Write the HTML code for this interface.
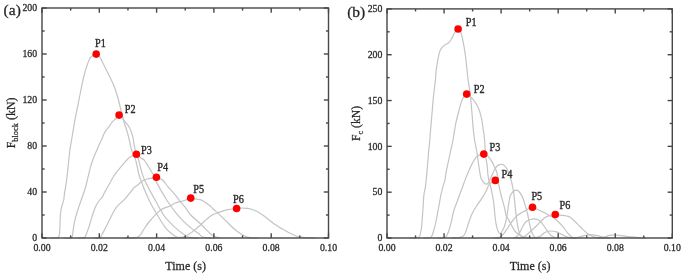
<!DOCTYPE html><html><head><meta charset="utf-8"><style>html,body{margin:0;padding:0;background:#fff;width:685px;height:277px;overflow:hidden}svg{display:block}text{font-family:"Liberation Serif", serif;stroke:#333;stroke-width:0.28px}</style></head><body>
<svg width="685" height="277" viewBox="0 0 685 277">
<defs><filter id="soft" x="0" y="0" width="685" height="277" filterUnits="userSpaceOnUse"><feGaussianBlur stdDeviation="0.50"/></filter></defs>
<rect width="685" height="277" fill="#fff"/>
<g filter="url(#soft)">
<g fill="none" stroke="#c4c4c4" stroke-width="1.20" stroke-linejoin="round" stroke-linecap="round">
<path d="M50.00 238.00 C51.25 237.97 56.10 237.87 57.50 237.80 C58.90 237.73 58.08 238.12 58.40 237.60 C58.72 237.08 59.17 236.15 59.40 234.70 C59.63 233.25 59.68 231.07 59.80 228.90 C59.92 226.73 60.00 224.10 60.10 221.70 C60.20 219.30 60.15 216.92 60.40 214.50 C60.65 212.08 61.05 209.62 61.60 207.20 C62.15 204.78 63.22 202.30 63.70 200.00 C64.18 197.70 64.07 196.32 64.50 193.40 C64.93 190.48 65.78 186.12 66.30 182.50 C66.82 178.88 67.20 175.32 67.60 171.70 C68.00 168.08 68.32 164.42 68.70 160.80 C69.08 157.18 69.50 152.97 69.90 150.00 C70.30 147.03 70.60 146.00 71.10 143.00 C71.60 140.00 72.30 135.63 72.90 132.00 C73.50 128.37 74.10 124.53 74.70 121.20 C75.30 117.87 75.90 115.02 76.50 112.00 C77.10 108.98 77.82 105.52 78.30 103.10 C78.78 100.68 79.02 99.43 79.40 97.50 C79.78 95.57 80.18 93.58 80.60 91.50 C81.02 89.42 81.45 87.17 81.90 85.00 C82.35 82.83 82.80 80.58 83.30 78.50 C83.80 76.42 84.35 74.43 84.90 72.50 C85.45 70.57 86.00 68.73 86.60 66.90 C87.20 65.07 87.82 63.10 88.50 61.50 C89.18 59.90 89.42 58.53 90.70 57.30 C91.98 56.07 94.65 54.07 96.20 54.10 C97.75 54.13 98.95 56.13 100.00 57.50 C101.05 58.87 101.67 60.67 102.50 62.30 C103.33 63.93 104.13 65.57 105.00 67.30 C105.87 69.03 106.78 70.87 107.70 72.70 C108.62 74.53 109.57 76.37 110.50 78.30 C111.43 80.23 112.42 82.18 113.30 84.30 C114.18 86.42 115.05 88.80 115.80 91.00 C116.55 93.20 117.18 95.33 117.80 97.50 C118.42 99.67 118.97 101.85 119.50 104.00 C120.03 106.15 120.48 108.32 121.00 110.40 C121.52 112.48 122.02 114.32 122.60 116.50 C123.18 118.68 123.82 121.20 124.50 123.50 C125.18 125.80 126.10 128.38 126.70 130.30 C127.30 132.22 127.28 131.72 128.10 135.00 C128.92 138.28 130.43 146.15 131.60 150.00 C132.77 153.85 134.12 155.10 135.10 158.10 C136.08 161.10 136.68 164.68 137.50 168.00 C138.32 171.32 138.08 172.67 140.00 178.00 C141.92 183.33 145.98 193.63 149.00 200.00 C152.02 206.37 155.37 211.60 158.10 216.20 C160.83 220.80 163.28 224.80 165.40 227.60 C167.52 230.40 169.00 231.48 170.80 233.00 C172.60 234.52 174.68 235.92 176.20 236.70 C177.72 237.48 178.27 237.48 179.90 237.70 C181.53 237.92 184.98 237.95 186.00 238.00"/>
<path d="M64.00 238.00 C65.17 237.98 69.60 238.22 71.00 237.90 C72.40 237.58 72.05 237.37 72.40 236.10 C72.75 234.83 72.78 232.47 73.10 230.30 C73.42 228.13 73.82 225.50 74.30 223.10 C74.78 220.70 75.35 218.30 76.00 215.90 C76.65 213.50 77.33 211.35 78.20 208.70 C79.07 206.05 80.02 203.45 81.20 200.00 C82.38 196.55 84.17 191.82 85.30 188.00 C86.43 184.18 87.10 180.72 88.00 177.10 C88.90 173.48 89.78 169.48 90.70 166.30 C91.62 163.12 92.87 159.80 93.50 158.00 C94.13 156.20 93.97 156.75 94.50 155.50 C95.03 154.25 95.98 152.18 96.70 150.50 C97.42 148.82 97.97 147.22 98.80 145.40 C99.63 143.58 100.85 141.52 101.70 139.60 C102.55 137.68 103.18 135.45 103.90 133.90 C104.62 132.35 105.05 131.63 106.00 130.30 C106.95 128.97 108.63 127.23 109.60 125.90 C110.57 124.57 110.72 123.57 111.80 122.30 C112.88 121.03 114.88 119.50 116.10 118.30 C117.32 117.10 118.18 115.28 119.10 115.10 C120.02 114.92 120.75 116.25 121.60 117.20 C122.45 118.15 123.02 119.28 124.20 120.80 C125.38 122.32 127.65 124.77 128.70 126.30 C129.75 127.83 129.83 128.32 130.50 130.00 C131.17 131.68 131.92 133.07 132.70 136.40 C133.48 139.73 134.30 146.38 135.20 150.00 C136.10 153.62 136.68 153.43 138.10 158.10 C139.52 162.77 140.87 171.02 143.70 178.00 C146.53 184.98 151.78 193.83 155.10 200.00 C158.42 206.17 161.28 211.45 163.60 215.00 C165.92 218.55 167.05 219.20 169.00 221.30 C170.95 223.40 173.03 225.57 175.30 227.60 C177.57 229.63 180.48 231.98 182.60 233.50 C184.72 235.02 186.50 236.00 188.00 236.70 C189.50 237.40 189.93 237.48 191.60 237.70 C193.27 237.92 196.93 237.95 198.00 238.00"/>
<path d="M78.00 238.00 C78.67 238.00 81.03 238.03 82.00 238.00 C82.97 237.97 83.27 238.03 83.80 237.80 C84.33 237.57 84.72 237.37 85.20 236.60 C85.68 235.83 86.10 234.73 86.70 233.20 C87.30 231.67 88.08 229.57 88.80 227.40 C89.52 225.23 90.27 222.60 91.00 220.20 C91.73 217.80 92.37 215.40 93.20 213.00 C94.03 210.60 94.93 207.97 96.00 205.80 C97.07 203.63 98.60 201.37 99.60 200.00 C100.60 198.63 101.28 198.65 102.00 197.60 C102.72 196.55 103.17 195.10 103.90 193.70 C104.63 192.30 105.57 190.68 106.40 189.20 C107.23 187.72 108.07 186.28 108.90 184.80 C109.73 183.32 110.57 181.77 111.40 180.30 C112.23 178.83 113.07 177.33 113.90 176.00 C114.73 174.67 115.57 173.42 116.40 172.30 C117.23 171.18 118.00 170.38 118.90 169.30 C119.80 168.22 120.85 166.95 121.80 165.80 C122.75 164.65 123.65 163.50 124.60 162.40 C125.55 161.30 126.63 160.05 127.50 159.20 C128.37 158.35 128.92 157.92 129.80 157.30 C130.68 156.68 131.70 156.02 132.80 155.50 C133.90 154.98 135.27 153.93 136.40 154.20 C137.53 154.47 138.30 156.12 139.60 157.10 C140.90 158.08 142.77 158.58 144.20 160.10 C145.63 161.62 146.93 164.18 148.20 166.20 C149.47 168.22 150.87 170.68 151.80 172.20 C152.73 173.72 152.98 173.57 153.80 175.30 C154.62 177.03 154.55 178.48 156.70 182.60 C158.85 186.72 163.60 195.08 166.70 200.00 C169.80 204.92 172.50 208.55 175.30 212.10 C178.10 215.65 180.93 218.72 183.50 221.30 C186.07 223.88 188.30 225.65 190.70 227.60 C193.10 229.55 195.95 231.48 197.90 233.00 C199.85 234.52 201.05 235.92 202.40 236.70 C203.75 237.48 204.40 237.48 206.00 237.70 C207.60 237.92 211.00 237.95 212.00 238.00"/>
<path d="M95.00 238.00 C95.75 237.95 98.50 237.97 99.50 237.70 C100.50 237.43 100.37 237.33 101.00 236.40 C101.63 235.47 102.40 233.83 103.30 232.10 C104.20 230.37 105.35 228.05 106.40 226.00 C107.45 223.95 108.55 221.88 109.60 219.80 C110.65 217.72 111.57 215.58 112.70 213.50 C113.83 211.42 114.97 209.15 116.40 207.30 C117.83 205.45 119.95 203.72 121.30 202.40 C122.65 201.08 123.60 200.32 124.50 199.40 C125.40 198.48 125.67 198.15 126.70 196.90 C127.73 195.65 129.53 193.38 130.70 191.90 C131.87 190.42 132.53 189.15 133.70 188.00 C134.87 186.85 136.30 186.15 137.70 185.00 C139.10 183.85 140.53 182.10 142.10 181.10 C143.67 180.10 145.42 179.48 147.10 179.00 C148.78 178.52 150.65 178.50 152.20 178.20 C153.75 177.90 155.05 177.07 156.40 177.20 C157.75 177.33 159.27 178.53 160.30 179.00 C161.33 179.47 161.27 178.65 162.60 180.00 C163.93 181.35 166.23 184.67 168.30 187.10 C170.37 189.53 173.05 192.25 175.00 194.60 C176.95 196.95 178.32 199.10 180.00 201.20 C181.68 203.30 183.32 204.90 185.10 207.20 C186.88 209.50 188.42 212.50 190.70 215.00 C192.98 217.50 196.43 219.98 198.80 222.20 C201.17 224.42 203.07 226.47 204.90 228.30 C206.73 230.13 208.18 231.83 209.80 233.20 C211.42 234.57 212.90 235.70 214.60 236.50 C216.30 237.30 219.10 237.75 220.00 238.00"/>
<path d="M125.00 238.00 C126.45 237.93 131.68 237.72 133.70 237.60 C135.72 237.48 135.95 237.80 137.10 237.30 C138.25 236.80 139.28 236.23 140.60 234.60 C141.92 232.97 143.60 229.60 145.00 227.50 C146.40 225.40 147.32 224.05 149.00 222.00 C150.68 219.95 153.27 217.12 155.10 215.20 C156.93 213.28 158.32 211.77 160.00 210.50 C161.68 209.23 163.52 208.35 165.20 207.60 C166.88 206.85 168.42 206.77 170.10 206.00 C171.78 205.23 173.65 203.72 175.30 203.00 C176.95 202.28 178.37 202.17 180.00 201.70 C181.63 201.23 183.32 200.80 185.10 200.20 C186.88 199.60 188.85 198.28 190.70 198.10 C192.55 197.92 194.60 198.85 196.20 199.10 C197.80 199.35 198.95 199.17 200.30 199.60 C201.65 200.03 202.80 200.77 204.30 201.70 C205.80 202.63 207.85 204.02 209.30 205.20 C210.75 206.38 211.03 206.98 213.00 208.80 C214.97 210.62 218.38 213.52 221.10 216.10 C223.82 218.68 226.58 221.72 229.30 224.30 C232.02 226.88 234.70 229.57 237.40 231.60 C240.10 233.63 243.07 235.43 245.50 236.50 C247.93 237.57 249.92 237.75 252.00 238.00 C254.08 238.25 257.00 238.00 258.00 238.00"/>
<path d="M168.00 238.00 C169.67 237.93 175.12 237.90 178.00 237.60 C180.88 237.30 182.88 237.18 185.30 236.20 C187.72 235.22 190.10 233.43 192.50 231.70 C194.90 229.97 197.37 227.85 199.70 225.80 C202.03 223.75 204.28 221.28 206.50 219.40 C208.72 217.52 210.83 215.72 213.00 214.50 C215.17 213.28 217.07 212.92 219.50 212.10 C221.93 211.28 224.75 210.20 227.60 209.60 C230.45 209.00 234.42 208.77 236.60 208.50 C238.78 208.23 238.93 208.03 240.70 208.00 C242.47 207.97 245.65 208.17 247.20 208.30 C248.75 208.43 248.45 208.30 250.00 208.80 C251.55 209.30 254.33 210.22 256.50 211.30 C258.67 212.38 260.83 213.82 263.00 215.30 C265.17 216.78 267.33 218.57 269.50 220.20 C271.67 221.83 273.83 223.62 276.00 225.10 C278.17 226.58 280.33 227.83 282.50 229.10 C284.67 230.37 286.83 231.60 289.00 232.70 C291.17 233.80 293.60 234.98 295.50 235.70 C297.40 236.42 298.77 236.68 300.40 237.00 C302.03 237.32 302.87 237.43 305.30 237.60 C307.73 237.77 313.38 237.93 315.00 238.00"/>
<path d="M410.00 238.00 C411.00 237.97 414.63 237.88 416.00 237.80 C417.37 237.72 417.55 237.87 418.20 237.50 C418.85 237.13 419.35 237.27 419.90 235.60 C420.45 233.93 421.02 231.57 421.50 227.50 C421.98 223.43 422.40 216.62 422.80 211.20 C423.20 205.78 423.45 199.18 423.90 195.00 C424.35 190.82 424.93 190.60 425.50 186.10 C426.07 181.60 426.78 173.68 427.30 168.00 C427.82 162.32 428.18 156.67 428.60 152.00 C429.02 147.33 429.50 143.32 429.80 140.00 C430.10 136.68 430.05 136.32 430.40 132.10 C430.75 127.88 431.40 120.48 431.90 114.70 C432.40 108.92 432.82 103.18 433.40 97.40 C433.98 91.62 435.00 83.78 435.40 80.00 C435.80 76.22 435.63 76.55 435.80 74.70 C435.97 72.85 436.15 70.83 436.40 68.90 C436.65 66.97 436.98 65.03 437.30 63.10 C437.62 61.17 437.90 59.22 438.30 57.30 C438.70 55.38 439.10 53.22 439.70 51.60 C440.30 49.98 441.05 48.70 441.90 47.60 C442.75 46.50 443.78 45.73 444.80 45.00 C445.82 44.27 446.93 44.12 448.00 43.20 C449.07 42.28 450.12 41.20 451.20 39.50 C452.28 37.80 453.33 34.73 454.50 33.00 C455.67 31.27 457.12 29.10 458.20 29.10 C459.28 29.10 460.18 30.90 461.00 33.00 C461.82 35.10 462.38 38.08 463.10 41.70 C463.82 45.32 464.68 50.37 465.30 54.70 C465.92 59.03 466.33 63.48 466.80 67.70 C467.27 71.92 467.65 76.50 468.10 80.00 C468.55 83.50 469.02 85.08 469.50 88.70 C469.98 92.32 470.57 97.37 471.00 101.70 C471.43 106.03 471.75 110.37 472.10 114.70 C472.45 119.03 472.68 123.48 473.10 127.70 C473.52 131.92 473.98 136.03 474.60 140.00 C475.22 143.97 476.20 147.90 476.80 151.50 C477.40 155.10 477.73 158.35 478.20 161.60 C478.67 164.85 479.13 168.27 479.60 171.00 C480.07 173.73 480.32 176.08 481.00 178.00 C481.68 179.92 482.77 181.47 483.70 182.50 C484.63 183.53 485.78 184.20 486.60 184.20 C487.42 184.20 487.98 183.37 488.60 182.50 C489.22 181.63 489.68 180.33 490.30 179.00 C490.92 177.67 491.58 176.08 492.30 174.50 C493.02 172.92 493.75 170.95 494.60 169.50 C495.45 168.05 496.40 166.67 497.40 165.80 C498.40 164.93 499.57 164.43 500.60 164.30 C501.63 164.17 502.70 164.47 503.60 165.00 C504.50 165.53 505.28 166.50 506.00 167.50 C506.72 168.50 507.25 169.50 507.90 171.00 C508.55 172.50 509.28 174.67 509.90 176.50 C510.52 178.33 511.10 180.08 511.60 182.00 C512.10 183.92 512.53 186.00 512.90 188.00 C513.27 190.00 513.55 192.20 513.80 194.00 C514.05 195.80 514.13 196.32 514.40 198.80 C514.67 201.28 515.00 205.37 515.40 208.90 C515.80 212.43 516.32 216.65 516.80 220.00 C517.28 223.35 517.68 226.42 518.30 229.00 C518.92 231.58 519.55 234.07 520.50 235.50 C521.45 236.93 522.42 237.18 524.00 237.60 C525.58 238.02 529.00 237.93 530.00 238.00"/>
<path d="M424.00 238.00 C424.67 237.97 426.80 237.98 428.00 237.80 C429.20 237.62 430.25 238.08 431.20 236.90 C432.15 235.72 432.88 233.35 433.70 230.70 C434.52 228.05 435.30 224.78 436.10 221.00 C436.90 217.22 437.68 212.42 438.50 208.00 C439.32 203.58 440.25 198.08 441.00 194.50 C441.75 190.92 442.37 188.80 443.00 186.50 C443.63 184.20 444.22 183.40 444.80 180.70 C445.38 178.00 445.85 173.72 446.50 170.30 C447.15 166.88 447.98 163.57 448.70 160.20 C449.42 156.83 450.08 153.47 450.80 150.10 C451.52 146.73 452.17 144.45 453.00 140.00 C453.83 135.55 454.80 128.33 455.80 123.40 C456.80 118.47 457.92 114.38 459.00 110.40 C460.08 106.42 461.03 102.18 462.30 99.50 C463.57 96.82 464.97 94.48 466.60 94.30 C468.23 94.12 470.28 96.45 472.10 98.40 C473.92 100.35 475.98 102.92 477.50 106.00 C479.02 109.08 480.23 112.92 481.20 116.90 C482.17 120.88 482.73 126.05 483.30 129.90 C483.87 133.75 484.28 136.65 484.60 140.00 C484.92 143.35 485.00 147.12 485.20 150.00 C485.40 152.88 485.47 154.63 485.80 157.30 C486.13 159.97 486.85 163.12 487.20 166.00 C487.55 168.88 487.63 172.27 487.90 174.60 C488.17 176.93 488.37 178.10 488.80 180.00 C489.23 181.90 489.97 183.83 490.50 186.00 C491.03 188.17 491.53 190.67 492.00 193.00 C492.47 195.33 492.93 197.67 493.30 200.00 C493.67 202.33 493.92 204.33 494.20 207.00 C494.48 209.67 494.65 212.97 495.00 216.00 C495.35 219.03 495.77 222.62 496.30 225.20 C496.83 227.78 497.58 230.12 498.20 231.50 C498.82 232.88 499.25 233.70 500.00 233.50 C500.75 233.30 501.83 231.88 502.70 230.30 C503.57 228.72 504.47 226.53 505.20 224.00 C505.93 221.47 506.55 218.27 507.10 215.10 C507.65 211.93 507.98 208.18 508.50 205.00 C509.02 201.82 509.40 198.27 510.20 196.00 C511.00 193.73 512.07 192.33 513.30 191.40 C514.53 190.47 516.17 189.65 517.60 190.40 C519.03 191.15 520.83 194.03 521.90 195.90 C522.97 197.77 523.28 199.43 524.00 201.60 C524.72 203.77 525.57 206.67 526.20 208.90 C526.83 211.13 527.33 212.98 527.80 215.00 C528.27 217.02 528.55 218.83 529.00 221.00 C529.45 223.17 529.92 225.83 530.50 228.00 C531.08 230.17 531.75 232.45 532.50 234.00 C533.25 235.55 533.75 236.63 535.00 237.30 C536.25 237.97 539.17 237.88 540.00 238.00"/>
<path d="M438.00 238.00 C438.67 237.97 440.70 237.98 442.00 237.80 C443.30 237.62 444.75 237.82 445.80 236.90 C446.85 235.98 447.48 234.42 448.30 232.30 C449.12 230.18 450.03 226.75 450.70 224.20 C451.37 221.65 451.75 219.37 452.30 217.00 C452.85 214.63 453.25 212.42 454.00 210.00 C454.75 207.58 455.88 205.00 456.80 202.50 C457.72 200.00 458.67 197.25 459.50 195.00 C460.33 192.75 461.08 190.92 461.80 189.00 C462.52 187.08 463.07 185.48 463.80 183.50 C464.53 181.52 465.23 179.53 466.20 177.10 C467.17 174.67 468.55 171.23 469.60 168.90 C470.65 166.57 471.42 165.03 472.50 163.10 C473.58 161.17 474.78 158.75 476.10 157.30 C477.42 155.85 479.12 154.95 480.40 154.40 C481.68 153.85 482.60 153.75 483.80 154.00 C485.00 154.25 486.25 154.63 487.60 155.90 C488.95 157.17 490.70 159.68 491.90 161.60 C493.10 163.52 494.02 165.72 494.80 167.40 C495.58 169.08 496.13 170.25 496.60 171.70 C497.07 173.15 497.27 174.05 497.60 176.10 C497.93 178.15 498.17 181.43 498.60 184.00 C499.03 186.57 499.58 188.92 500.20 191.50 C500.82 194.08 501.58 196.80 502.30 199.50 C503.02 202.20 503.85 204.95 504.50 207.70 C505.15 210.45 505.67 214.28 506.20 216.00 C506.73 217.72 506.82 216.47 507.70 218.00 C508.58 219.53 510.23 222.95 511.50 225.20 C512.77 227.45 514.03 229.92 515.30 231.50 C516.57 233.08 517.82 233.87 519.10 234.70 C520.38 235.53 521.52 236.02 523.00 236.50 C524.48 236.98 526.17 237.35 528.00 237.60 C529.83 237.85 533.00 237.93 534.00 238.00"/>
<path d="M452.00 238.00 C452.67 237.97 454.83 237.88 456.00 237.80 C457.17 237.72 457.92 237.72 459.00 237.50 C460.08 237.28 461.53 237.08 462.50 236.50 C463.47 235.92 464.18 235.00 464.80 234.00 C465.42 233.00 465.70 231.92 466.20 230.50 C466.70 229.08 467.18 227.42 467.80 225.50 C468.42 223.58 469.08 221.17 469.90 219.00 C470.72 216.83 471.60 214.67 472.70 212.50 C473.80 210.33 475.08 208.20 476.50 206.00 C477.92 203.80 479.65 201.68 481.20 199.30 C482.75 196.92 484.52 194.12 485.80 191.70 C487.08 189.28 487.93 186.33 488.90 184.80 C489.87 183.27 490.52 183.20 491.60 182.50 C492.68 181.80 494.23 180.52 495.40 180.60 C496.57 180.68 498.07 182.60 498.60 183.00"/>
<path d="M494.00 238.00 C494.67 237.97 496.92 238.00 498.00 237.80 C499.08 237.60 499.58 237.43 500.50 236.80 C501.42 236.17 502.42 235.30 503.50 234.00 C504.58 232.70 505.88 230.67 507.00 229.00 C508.12 227.33 509.17 225.50 510.20 224.00 C511.23 222.50 512.07 221.37 513.20 220.00 C514.33 218.63 515.53 217.05 517.00 215.80 C518.47 214.55 520.50 213.43 522.00 212.50 C523.50 211.57 524.75 210.95 526.00 210.20 C527.25 209.45 528.42 208.53 529.50 208.00 C530.58 207.47 531.40 206.88 532.50 207.00 C533.60 207.12 534.78 208.07 536.10 208.70 C537.42 209.33 538.92 210.08 540.40 210.80 C541.88 211.52 543.48 212.20 545.00 213.00 C546.52 213.80 548.00 214.72 549.50 215.60 C551.00 216.48 552.58 217.32 554.00 218.30 C555.42 219.28 556.52 220.10 558.00 221.50 C559.48 222.90 561.27 224.75 562.90 226.70 C564.53 228.65 566.32 231.48 567.80 233.20 C569.28 234.92 570.43 236.20 571.80 237.00 C573.17 237.80 575.30 237.83 576.00 238.00"/>
<path d="M516.00 238.00 C516.67 237.97 518.78 237.97 520.00 237.80 C521.22 237.63 522.22 237.47 523.30 237.00 C524.38 236.53 525.38 235.83 526.50 235.00 C527.62 234.17 528.83 233.08 530.00 232.00 C531.17 230.92 532.23 229.70 533.50 228.50 C534.77 227.30 536.20 226.18 537.60 224.80 C539.00 223.42 540.47 221.53 541.90 220.20 C543.33 218.87 544.63 217.63 546.20 216.80 C547.77 215.97 549.80 215.58 551.30 215.20 C552.80 214.82 553.88 214.50 555.20 214.50 C556.52 214.50 557.90 215.05 559.20 215.20 C560.50 215.35 561.78 215.27 563.00 215.40 C564.22 215.53 565.32 215.68 566.50 216.00 C567.68 216.32 568.77 216.47 570.10 217.30 C571.43 218.13 573.05 219.67 574.50 221.00 C575.95 222.33 577.37 223.87 578.80 225.30 C580.23 226.73 581.65 228.23 583.10 229.60 C584.55 230.97 586.17 232.47 587.50 233.50 C588.83 234.53 589.90 235.20 591.10 235.80 C592.30 236.40 593.38 236.75 594.70 237.10 C596.02 237.45 597.45 237.75 599.00 237.90 C600.55 238.05 603.17 237.98 604.00 238.00"/>
<path d="M514.00 238.00 C514.50 237.75 516.00 237.50 517.00 236.50 C518.00 235.50 519.00 233.75 520.00 232.00 C521.00 230.25 522.00 227.72 523.00 226.00 C524.00 224.28 524.78 222.78 526.00 221.70 C527.22 220.62 528.85 219.98 530.30 219.50 C531.75 219.02 533.25 218.68 534.70 218.80 C536.15 218.92 537.80 219.48 539.00 220.20 C540.20 220.92 540.90 221.88 541.90 223.10 C542.90 224.32 543.98 226.02 545.00 227.50 C546.02 228.98 547.00 230.67 548.00 232.00 C549.00 233.33 549.83 234.58 551.00 235.50 C552.17 236.42 553.50 237.08 555.00 237.50 C556.50 237.92 559.17 237.92 560.00 238.00"/>
<path d="M532.00 238.00 C532.67 237.93 534.60 237.92 536.00 237.60 C537.40 237.28 538.93 236.95 540.40 236.10 C541.87 235.25 543.12 233.35 544.80 232.50 C546.48 231.65 548.58 231.12 550.50 231.00 C552.42 230.88 554.60 231.32 556.30 231.80 C558.00 232.28 559.25 233.18 560.70 233.90 C562.15 234.62 563.45 235.48 565.00 236.10 C566.55 236.72 568.33 237.28 570.00 237.60 C571.67 237.92 574.17 237.93 575.00 238.00"/>
<path d="M572.00 238.00 C572.67 237.93 574.63 237.80 576.00 237.60 C577.37 237.40 578.65 237.17 580.20 236.80 C581.75 236.43 583.62 235.75 585.30 235.40 C586.98 235.05 588.50 234.70 590.30 234.70 C592.10 234.70 594.17 235.05 596.10 235.40 C598.03 235.75 600.25 236.42 601.90 236.80 C603.55 237.18 604.65 237.50 606.00 237.70 C607.35 237.90 609.33 237.95 610.00 238.00"/>
<path d="M598.00 238.00 C598.50 237.97 599.87 237.93 601.00 237.80 C602.13 237.67 603.45 237.60 604.80 237.20 C606.15 236.80 607.65 235.77 609.10 235.40 C610.55 235.03 611.82 235.00 613.50 235.00 C615.18 235.00 617.03 235.17 619.20 235.40 C621.37 235.63 623.85 236.10 626.50 236.40 C629.15 236.70 632.68 236.95 635.10 237.20 C637.52 237.45 639.18 237.77 641.00 237.90 C642.82 238.03 645.17 237.98 646.00 238.00"/>
</g>
<rect x="42.00" y="8.00" width="286.50" height="230.00" fill="none" stroke="#474747" stroke-width="1.40"/>
<line x1="42.00" y1="238.00" x2="42.00" y2="233.30" stroke="#474747" stroke-width="1.40"/>
<line x1="42.00" y1="8.00" x2="42.00" y2="12.70" stroke="#474747" stroke-width="1.40"/>
<line x1="70.65" y1="238.00" x2="70.65" y2="235.40" stroke="#474747" stroke-width="1.40"/>
<line x1="70.65" y1="8.00" x2="70.65" y2="10.60" stroke="#474747" stroke-width="1.40"/>
<line x1="99.30" y1="238.00" x2="99.30" y2="233.30" stroke="#474747" stroke-width="1.40"/>
<line x1="99.30" y1="8.00" x2="99.30" y2="12.70" stroke="#474747" stroke-width="1.40"/>
<line x1="127.95" y1="238.00" x2="127.95" y2="235.40" stroke="#474747" stroke-width="1.40"/>
<line x1="127.95" y1="8.00" x2="127.95" y2="10.60" stroke="#474747" stroke-width="1.40"/>
<line x1="156.60" y1="238.00" x2="156.60" y2="233.30" stroke="#474747" stroke-width="1.40"/>
<line x1="156.60" y1="8.00" x2="156.60" y2="12.70" stroke="#474747" stroke-width="1.40"/>
<line x1="185.25" y1="238.00" x2="185.25" y2="235.40" stroke="#474747" stroke-width="1.40"/>
<line x1="185.25" y1="8.00" x2="185.25" y2="10.60" stroke="#474747" stroke-width="1.40"/>
<line x1="213.90" y1="238.00" x2="213.90" y2="233.30" stroke="#474747" stroke-width="1.40"/>
<line x1="213.90" y1="8.00" x2="213.90" y2="12.70" stroke="#474747" stroke-width="1.40"/>
<line x1="242.55" y1="238.00" x2="242.55" y2="235.40" stroke="#474747" stroke-width="1.40"/>
<line x1="242.55" y1="8.00" x2="242.55" y2="10.60" stroke="#474747" stroke-width="1.40"/>
<line x1="271.20" y1="238.00" x2="271.20" y2="233.30" stroke="#474747" stroke-width="1.40"/>
<line x1="271.20" y1="8.00" x2="271.20" y2="12.70" stroke="#474747" stroke-width="1.40"/>
<line x1="299.85" y1="238.00" x2="299.85" y2="235.40" stroke="#474747" stroke-width="1.40"/>
<line x1="299.85" y1="8.00" x2="299.85" y2="10.60" stroke="#474747" stroke-width="1.40"/>
<line x1="328.50" y1="238.00" x2="328.50" y2="233.30" stroke="#474747" stroke-width="1.40"/>
<line x1="328.50" y1="8.00" x2="328.50" y2="12.70" stroke="#474747" stroke-width="1.40"/>
<line x1="42.00" y1="238.00" x2="46.70" y2="238.00" stroke="#474747" stroke-width="1.40"/>
<line x1="328.50" y1="238.00" x2="323.80" y2="238.00" stroke="#474747" stroke-width="1.40"/>
<line x1="42.00" y1="215.00" x2="44.60" y2="215.00" stroke="#474747" stroke-width="1.40"/>
<line x1="328.50" y1="215.00" x2="325.90" y2="215.00" stroke="#474747" stroke-width="1.40"/>
<line x1="42.00" y1="192.00" x2="46.70" y2="192.00" stroke="#474747" stroke-width="1.40"/>
<line x1="328.50" y1="192.00" x2="323.80" y2="192.00" stroke="#474747" stroke-width="1.40"/>
<line x1="42.00" y1="169.00" x2="44.60" y2="169.00" stroke="#474747" stroke-width="1.40"/>
<line x1="328.50" y1="169.00" x2="325.90" y2="169.00" stroke="#474747" stroke-width="1.40"/>
<line x1="42.00" y1="146.00" x2="46.70" y2="146.00" stroke="#474747" stroke-width="1.40"/>
<line x1="328.50" y1="146.00" x2="323.80" y2="146.00" stroke="#474747" stroke-width="1.40"/>
<line x1="42.00" y1="123.00" x2="44.60" y2="123.00" stroke="#474747" stroke-width="1.40"/>
<line x1="328.50" y1="123.00" x2="325.90" y2="123.00" stroke="#474747" stroke-width="1.40"/>
<line x1="42.00" y1="100.00" x2="46.70" y2="100.00" stroke="#474747" stroke-width="1.40"/>
<line x1="328.50" y1="100.00" x2="323.80" y2="100.00" stroke="#474747" stroke-width="1.40"/>
<line x1="42.00" y1="77.00" x2="44.60" y2="77.00" stroke="#474747" stroke-width="1.40"/>
<line x1="328.50" y1="77.00" x2="325.90" y2="77.00" stroke="#474747" stroke-width="1.40"/>
<line x1="42.00" y1="54.00" x2="46.70" y2="54.00" stroke="#474747" stroke-width="1.40"/>
<line x1="328.50" y1="54.00" x2="323.80" y2="54.00" stroke="#474747" stroke-width="1.40"/>
<line x1="42.00" y1="31.00" x2="44.60" y2="31.00" stroke="#474747" stroke-width="1.40"/>
<line x1="328.50" y1="31.00" x2="325.90" y2="31.00" stroke="#474747" stroke-width="1.40"/>
<line x1="42.00" y1="8.00" x2="46.70" y2="8.00" stroke="#474747" stroke-width="1.40"/>
<line x1="328.50" y1="8.00" x2="323.80" y2="8.00" stroke="#474747" stroke-width="1.40"/>
<rect x="387.00" y="8.90" width="285.30" height="229.10" fill="none" stroke="#474747" stroke-width="1.40"/>
<line x1="387.00" y1="238.00" x2="387.00" y2="233.30" stroke="#474747" stroke-width="1.40"/>
<line x1="387.00" y1="8.90" x2="387.00" y2="13.60" stroke="#474747" stroke-width="1.40"/>
<line x1="415.53" y1="238.00" x2="415.53" y2="235.40" stroke="#474747" stroke-width="1.40"/>
<line x1="415.53" y1="8.90" x2="415.53" y2="11.50" stroke="#474747" stroke-width="1.40"/>
<line x1="444.06" y1="238.00" x2="444.06" y2="233.30" stroke="#474747" stroke-width="1.40"/>
<line x1="444.06" y1="8.90" x2="444.06" y2="13.60" stroke="#474747" stroke-width="1.40"/>
<line x1="472.59" y1="238.00" x2="472.59" y2="235.40" stroke="#474747" stroke-width="1.40"/>
<line x1="472.59" y1="8.90" x2="472.59" y2="11.50" stroke="#474747" stroke-width="1.40"/>
<line x1="501.12" y1="238.00" x2="501.12" y2="233.30" stroke="#474747" stroke-width="1.40"/>
<line x1="501.12" y1="8.90" x2="501.12" y2="13.60" stroke="#474747" stroke-width="1.40"/>
<line x1="529.65" y1="238.00" x2="529.65" y2="235.40" stroke="#474747" stroke-width="1.40"/>
<line x1="529.65" y1="8.90" x2="529.65" y2="11.50" stroke="#474747" stroke-width="1.40"/>
<line x1="558.18" y1="238.00" x2="558.18" y2="233.30" stroke="#474747" stroke-width="1.40"/>
<line x1="558.18" y1="8.90" x2="558.18" y2="13.60" stroke="#474747" stroke-width="1.40"/>
<line x1="586.71" y1="238.00" x2="586.71" y2="235.40" stroke="#474747" stroke-width="1.40"/>
<line x1="586.71" y1="8.90" x2="586.71" y2="11.50" stroke="#474747" stroke-width="1.40"/>
<line x1="615.24" y1="238.00" x2="615.24" y2="233.30" stroke="#474747" stroke-width="1.40"/>
<line x1="615.24" y1="8.90" x2="615.24" y2="13.60" stroke="#474747" stroke-width="1.40"/>
<line x1="643.77" y1="238.00" x2="643.77" y2="235.40" stroke="#474747" stroke-width="1.40"/>
<line x1="643.77" y1="8.90" x2="643.77" y2="11.50" stroke="#474747" stroke-width="1.40"/>
<line x1="672.30" y1="238.00" x2="672.30" y2="233.30" stroke="#474747" stroke-width="1.40"/>
<line x1="672.30" y1="8.90" x2="672.30" y2="13.60" stroke="#474747" stroke-width="1.40"/>
<line x1="387.00" y1="238.00" x2="391.70" y2="238.00" stroke="#474747" stroke-width="1.40"/>
<line x1="672.30" y1="238.00" x2="667.60" y2="238.00" stroke="#474747" stroke-width="1.40"/>
<line x1="387.00" y1="215.09" x2="389.60" y2="215.09" stroke="#474747" stroke-width="1.40"/>
<line x1="672.30" y1="215.09" x2="669.70" y2="215.09" stroke="#474747" stroke-width="1.40"/>
<line x1="387.00" y1="192.18" x2="391.70" y2="192.18" stroke="#474747" stroke-width="1.40"/>
<line x1="672.30" y1="192.18" x2="667.60" y2="192.18" stroke="#474747" stroke-width="1.40"/>
<line x1="387.00" y1="169.27" x2="389.60" y2="169.27" stroke="#474747" stroke-width="1.40"/>
<line x1="672.30" y1="169.27" x2="669.70" y2="169.27" stroke="#474747" stroke-width="1.40"/>
<line x1="387.00" y1="146.36" x2="391.70" y2="146.36" stroke="#474747" stroke-width="1.40"/>
<line x1="672.30" y1="146.36" x2="667.60" y2="146.36" stroke="#474747" stroke-width="1.40"/>
<line x1="387.00" y1="123.45" x2="389.60" y2="123.45" stroke="#474747" stroke-width="1.40"/>
<line x1="672.30" y1="123.45" x2="669.70" y2="123.45" stroke="#474747" stroke-width="1.40"/>
<line x1="387.00" y1="100.54" x2="391.70" y2="100.54" stroke="#474747" stroke-width="1.40"/>
<line x1="672.30" y1="100.54" x2="667.60" y2="100.54" stroke="#474747" stroke-width="1.40"/>
<line x1="387.00" y1="77.63" x2="389.60" y2="77.63" stroke="#474747" stroke-width="1.40"/>
<line x1="672.30" y1="77.63" x2="669.70" y2="77.63" stroke="#474747" stroke-width="1.40"/>
<line x1="387.00" y1="54.72" x2="391.70" y2="54.72" stroke="#474747" stroke-width="1.40"/>
<line x1="672.30" y1="54.72" x2="667.60" y2="54.72" stroke="#474747" stroke-width="1.40"/>
<line x1="387.00" y1="31.81" x2="389.60" y2="31.81" stroke="#474747" stroke-width="1.40"/>
<line x1="672.30" y1="31.81" x2="669.70" y2="31.81" stroke="#474747" stroke-width="1.40"/>
<line x1="387.00" y1="8.90" x2="391.70" y2="8.90" stroke="#474747" stroke-width="1.40"/>
<line x1="672.30" y1="8.90" x2="667.60" y2="8.90" stroke="#474747" stroke-width="1.40"/>
<circle cx="96.20" cy="54.10" r="3.80" fill="#ff0000"/>
<circle cx="119.10" cy="115.10" r="3.80" fill="#ff0000"/>
<circle cx="136.40" cy="154.20" r="3.80" fill="#ff0000"/>
<circle cx="156.40" cy="177.20" r="3.80" fill="#ff0000"/>
<circle cx="190.70" cy="198.10" r="3.80" fill="#ff0000"/>
<circle cx="236.60" cy="208.50" r="3.80" fill="#ff0000"/>
<circle cx="458.10" cy="29.00" r="3.80" fill="#ff0000"/>
<circle cx="466.70" cy="94.10" r="3.80" fill="#ff0000"/>
<circle cx="483.80" cy="154.10" r="3.80" fill="#ff0000"/>
<circle cx="495.30" cy="180.40" r="3.80" fill="#ff0000"/>
<circle cx="532.50" cy="207.30" r="3.80" fill="#ff0000"/>
<circle cx="555.30" cy="214.50" r="3.80" fill="#ff0000"/>
<text transform="translate(95.00 46.70) scale(0.930 1.050)" font-size="11.00" fill="#222" style="stroke-width:0.35px">P1</text>
<text transform="translate(124.80 113.20) scale(0.930 1.050)" font-size="11.00" fill="#222" style="stroke-width:0.35px">P2</text>
<text transform="translate(141.00 154.20) scale(0.930 1.050)" font-size="11.00" fill="#222" style="stroke-width:0.35px">P3</text>
<text transform="translate(157.30 170.90) scale(0.930 1.050)" font-size="11.00" fill="#222" style="stroke-width:0.35px">P4</text>
<text transform="translate(193.20 192.90) scale(0.930 1.050)" font-size="11.00" fill="#222" style="stroke-width:0.35px">P5</text>
<text transform="translate(233.00 202.80) scale(0.930 1.050)" font-size="11.00" fill="#222" style="stroke-width:0.35px">P6</text>
<text transform="translate(465.80 25.60) scale(0.930 1.050)" font-size="11.00" fill="#222" style="stroke-width:0.35px">P1</text>
<text transform="translate(473.70 92.60) scale(0.930 1.050)" font-size="11.00" fill="#222" style="stroke-width:0.35px">P2</text>
<text transform="translate(489.60 150.80) scale(0.930 1.050)" font-size="11.00" fill="#222" style="stroke-width:0.35px">P3</text>
<text transform="translate(501.50 177.60) scale(0.930 1.050)" font-size="11.00" fill="#222" style="stroke-width:0.35px">P4</text>
<text transform="translate(531.40 199.90) scale(0.930 1.050)" font-size="11.00" fill="#222" style="stroke-width:0.35px">P5</text>
<text transform="translate(559.60 209.00) scale(0.930 1.050)" font-size="11.00" fill="#222" style="stroke-width:0.35px">P6</text>
<text x="37.10" y="241.40" font-size="9.80" text-anchor="end" fill="#222" >0</text>
<text x="37.10" y="195.40" font-size="9.80" text-anchor="end" fill="#222" >40</text>
<text x="37.10" y="149.40" font-size="9.80" text-anchor="end" fill="#222" >80</text>
<text x="37.10" y="103.40" font-size="9.80" text-anchor="end" fill="#222" >120</text>
<text x="37.10" y="57.40" font-size="9.80" text-anchor="end" fill="#222" >160</text>
<text x="37.10" y="11.40" font-size="9.80" text-anchor="end" fill="#222" >200</text>
<text x="42.00" y="251.10" font-size="9.80" text-anchor="middle" fill="#222" >0.00</text>
<text x="99.30" y="251.10" font-size="9.80" text-anchor="middle" fill="#222" >0.02</text>
<text x="156.60" y="251.10" font-size="9.80" text-anchor="middle" fill="#222" >0.04</text>
<text x="213.90" y="251.10" font-size="9.80" text-anchor="middle" fill="#222" >0.06</text>
<text x="271.20" y="251.10" font-size="9.80" text-anchor="middle" fill="#222" >0.08</text>
<text x="328.50" y="251.10" font-size="9.80" text-anchor="middle" fill="#222" >0.10</text>
<text x="382.40" y="241.30" font-size="9.80" text-anchor="end" fill="#222" >0</text>
<text x="382.40" y="195.48" font-size="9.80" text-anchor="end" fill="#222" >50</text>
<text x="382.40" y="149.66" font-size="9.80" text-anchor="end" fill="#222" >100</text>
<text x="382.40" y="103.84" font-size="9.80" text-anchor="end" fill="#222" >150</text>
<text x="382.40" y="58.02" font-size="9.80" text-anchor="end" fill="#222" >200</text>
<text x="382.40" y="12.20" font-size="9.80" text-anchor="end" fill="#222" >250</text>
<text x="387.00" y="251.10" font-size="9.80" text-anchor="middle" fill="#222" >0.00</text>
<text x="444.06" y="251.10" font-size="9.80" text-anchor="middle" fill="#222" >0.02</text>
<text x="501.12" y="251.10" font-size="9.80" text-anchor="middle" fill="#222" >0.04</text>
<text x="558.18" y="251.10" font-size="9.80" text-anchor="middle" fill="#222" >0.06</text>
<text x="615.24" y="251.10" font-size="9.80" text-anchor="middle" fill="#222" >0.08</text>
<text x="672.30" y="251.10" font-size="9.80" text-anchor="middle" fill="#222" >0.10</text>
<text transform="translate(185.65 270.2) scale(0.94 1)" font-size="12.8" text-anchor="middle" fill="#222">Time (s)</text>
<text transform="translate(530.15 269.9) scale(0.94 1)" font-size="12.8" text-anchor="middle" fill="#222">Time (s)</text>
<text transform="translate(15.0 148.3) rotate(-90) scale(0.92 1)" font-size="13" fill="#222">F<tspan font-size="9.1" dy="3.1">block</tspan><tspan dy="-3.1"> (kN)</tspan></text>
<text transform="translate(360.4 141.0) rotate(-90) scale(0.9 1)" font-size="13" fill="#222">F<tspan font-size="9.1" dy="2.8">c</tspan><tspan dy="-2.8"> (kN)</tspan></text>
<text x="3.60" y="14.80" font-size="15.50" text-anchor="start" fill="#222" style="stroke-width:0.3px">(a)</text>
<text x="347.20" y="17.40" font-size="15.50" text-anchor="start" fill="#222" style="stroke-width:0.3px">(b)</text>
</g>
</svg></body></html>
